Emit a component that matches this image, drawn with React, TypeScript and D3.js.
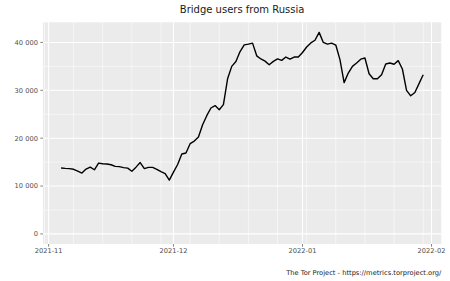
import React from "react";
import * as d3 from "d3";

const START_DATE = "2021-11-04";
const users: number[] = [
  // Nov 4 - Nov 30
  13780, 13700, 13650, 13500, 13100, 12700, 13550, 13950, 13400, 14800,
  14650, 14600, 14450, 14100, 14050, 13850, 13750, 13100, 13950, 14900,
  13650, 13900, 13900, 13500, 13000, 12600, 11250,
  // Dec 1 - Dec 31
  12900, 14500, 16700, 16900, 18850, 19400, 20250, 22800, 24700, 26300,
  26800, 25950, 27000, 32400, 35000, 36000, 38100, 39500, 39650, 39850,
  37200, 36550, 36100, 35350, 36050, 36550, 36250, 36950, 36500, 36950,
  36950,
  // Jan 1 - Jan 30
  37900, 39050, 39900, 40450, 42100, 40000, 39650, 39850, 39450, 36400,
  31600, 33600, 35000, 35700, 36500, 36750, 33450, 32400, 32400, 33250,
  35500, 35700, 35450, 36200, 34450, 30000, 28850, 29550, 31400, 33250,
];
const xTickLabels = ["2021-11", "2021-12", "2022-01", "2022-02"];
const yTicks = [0, 10000, 20000, 30000, 40000];
const yMinor = [5000, 15000, 25000, 35000];
const title = "Bridge users from Russia";
const caption = "The Tor Project - https://metrics.torproject.org/";

const W = 450;
const H = 281;
const panel = { left: 43, right: 441.3, top: 22.3, bottom: 244 };
const FONT = "'DejaVu Sans', sans-serif";

export default function App() {
  const start = new Date(START_DATE + "T00:00:00Z");
  const data = users.map((v, i) => ({ date: d3.utcDay.offset(start, i), value: v }));
  const x0 = data[0].date.getTime();
  const x1 = data[data.length - 1].date.getTime();
  const xPad = (x1 - x0) * 0.05;
  const x = d3
    .scaleUtc()
    .domain([new Date(x0 - xPad), new Date(x1 + xPad)])
    .range([panel.left, panel.right]);
  const yMax = d3.max(users) as number;
  const yPad = yMax * 0.05;
  const y = d3.scaleLinear().domain([-yPad, yMax + yPad]).range([panel.bottom, panel.top]);

  const xMajor = xTickLabels.map((s) => new Date(s + "-01T00:00:00Z"));
  const xMinorDates = d3.utcSunday.range(new Date(x0 - xPad), new Date(x1 + xPad));

  const fmt = d3.formatLocale({ decimal: ".", thousands: " ", grouping: [3], currency: ["", ""] }).format(",");

  const line = d3
    .line<{ date: Date; value: number }>()
    .x((d) => x(d.date))
    .y((d) => y(d.value));

  return (
    <svg
      width={W}
      height={H}
      style={{ position: "absolute", left: 0, top: 0, display: "block", background: "#fff" }}
    >
      <rect x={0} y={0} width={W} height={H} fill="#ffffff" />
      <text x={(panel.left + panel.right) / 2} y={12.7} textAnchor="middle" fontFamily={FONT} fontSize={10} fill="#1a1a1a">
        {title}
      </text>
      <rect
        x={panel.left}
        y={panel.top}
        width={panel.right - panel.left}
        height={panel.bottom - panel.top}
        fill="#ebebeb"
      />
      {yMinor.map((v) => (
        <line key={"ym" + v} x1={panel.left} x2={panel.right} y1={y(v)} y2={y(v)} stroke="#fff" strokeWidth={0.55} />
      ))}
      {xMinorDates.map((d) => (
        <line key={"xm" + d.getTime()} x1={x(d)} x2={x(d)} y1={panel.top} y2={panel.bottom} stroke="#fff" strokeWidth={0.55} />
      ))}
      {yTicks.map((v) => (
        <line key={"yM" + v} x1={panel.left} x2={panel.right} y1={y(v)} y2={y(v)} stroke="#fff" strokeWidth={1.1} />
      ))}
      {xMajor.map((d) => (
        <line key={"xM" + d.getTime()} x1={x(d)} x2={x(d)} y1={panel.top} y2={panel.bottom} stroke="#fff" strokeWidth={1.1} />
      ))}
      <path d={line(data) || ""} fill="none" stroke="#000" strokeWidth={1.4} strokeLinejoin="round" />
      {yTicks.map((v) => (
        <g key={"yt" + v}>
          <line x1={panel.left - 2.7} x2={panel.left} y1={y(v)} y2={y(v)} stroke="#333" strokeWidth={0.6} />
          <text x={panel.left - 5} y={y(v)} dy="0.35em" textAnchor="end" fontFamily={FONT} fontSize={6.7} fill="#4d4d4d">
            {fmt(v)}
          </text>
        </g>
      ))}
      {xMajor.map((d, i) => (
        <g key={"xt" + i}>
          <line x1={x(d)} x2={x(d)} y1={panel.bottom} y2={panel.bottom + 2.7} stroke="#333" strokeWidth={0.6} />
          <text x={x(d)} y={253} textAnchor="middle" fontFamily={FONT} fontSize={6.7} fill="#4d4d4d">
            {xTickLabels[i]}
          </text>
        </g>
      ))}
      <text x={panel.right} y={275} textAnchor="end" fontFamily={FONT} fontSize={6.7} fill="#1a1a1a">
        {caption}
      </text>
    </svg>
  );
}
